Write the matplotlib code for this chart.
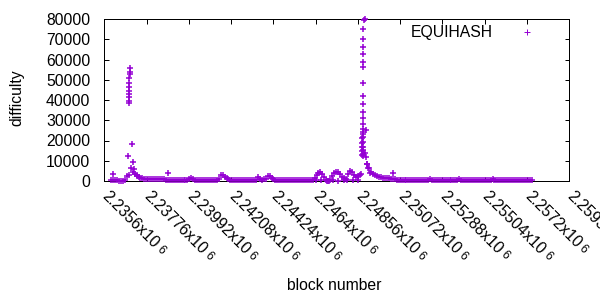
import numpy as np
import matplotlib
matplotlib.use('Agg')
import matplotlib.pyplot as plt
from matplotlib.lines import Line2D
from matplotlib.transforms import ScaledTranslation, blended_transform_factory

plt.rcParams['font.family'] = ['Liberation Sans', 'DejaVu Sans']

# ---------------- data ----------------
series_name = "EQUIHASH"

# regularly sampled blocks (every 100 blocks)
grid_blocks = list(range(2235950, 2257550, 100))
grid_difficulty = [
    600, 550, 500, 300, 200, 150, 150, 300, 2600, 3000,
    6500, 4500, 3300, 2300, 1800, 1500, 1300, 1150, 1000, 950,
    900, 900, 850, 850, 800, 800, 800, 750, 700, 600,
    400, 350, 300, 300, 350, 300, 250, 300, 350, 400,
    1200, 1600, 800, 500, 400, 350, 300, 350, 300, 250,
    300, 350, 300, 350, 400, 1200, 2800, 3200, 2200, 1300,
    800, 600, 500, 500, 550, 500, 450, 500, 550, 500,
    450, 500, 550, 500, 600, 1800, 900, 700, 800, 1200,
    2300, 2600, 1500, 800, 600, 500, 450, 500, 550, 500,
    450, 500, 400, 450, 500, 450, 400, 450, 500, 450,
    400, 450, 500, 600, 1500, 3000, 4000, 4200, 3300, 1800,
    600, 200, 600, 2400, 3800, 4600, 4300, 3300, 2000, 1300,
    1200, 3300, 5000, 4200, 3000, 2200, 2600, 3000, 3500, 13500,
    14000, 8500, 6300, 4200, 3500, 3000, 2500, 2200, 1900, 1700,
    1500, 1400, 1300, 1200, 1100, 1000, 500, 300, 350, 300,
    250, 300, 350, 300, 300, 250, 300, 350, 400, 300,
    250, 300, 350, 800, 350, 300, 250, 300, 350, 300,
    250, 300, 300, 350, 300, 250, 300, 350, 800, 350,
    300, 250, 300, 350, 300, 300, 250, 300, 350, 400,
    300, 250, 300, 350, 300, 800, 300, 350, 300, 300,
    250, 300, 350, 300, 250, 300, 350, 300, 350, 350,
    300, 250, 300, 350, 300, 300,
]

# first difficulty spike
spike1_blocks = [2236827, 2236878, 2236878, 2236878, 2236880, 2236880, 2236882,
                 2236882, 2236884, 2236930, 2236930, 2236935, 2237031, 2237082,
                 2237134, 2237256]
spike1_difficulty = [12500, 38400, 39700, 41300, 43000, 44600, 46600,
                     48500, 50700, 52800, 54000, 55600, 18100, 9200,
                     5800, 3000]

# second difficulty spike
spike2_blocks = [2248760, 2248780, 2248780, 2248800, 2248800, 2248820,
                 2248840, 2248840, 2248840, 2248840, 2248840, 2248840,
                 2248840, 2248840, 2248840, 2248840, 2248840, 2248840,
                 2248840, 2248840, 2248840, 2248840, 2248840, 2248840,
                 2248840, 2248860, 2248930, 2248970, 2248970, 2249020,
                 2249070, 2249190]
spike2_difficulty = [13000, 15000, 17000, 19000, 21000, 23000,
                     12500, 15300, 16900, 19400, 21900, 24300,
                     25700, 28100, 31000, 34200, 37900, 42100,
                     48500, 56400, 58900, 62700, 66300, 70000,
                     74900, 79500, 80000, 25200, 12000, 8400,
                     6300, 3800]

# low values between the humps before the second spike
low_blocks = [2246422, 2246678, 2246985, 2247087, 2247292, 2247547,
              2247854, 2248007, 2248314, 2248570]
low_difficulty = [300, 400, 100, 150, 300, 200, 400, 300, 250, 350]

# isolated outliers
outlier_blocks = [2236060, 2238872, 2250380]
outlier_difficulty = [3500, 3800, 4100]

x_ticks = [2235600, 2237760, 2239920, 2242080, 2244240, 2246400,
           2248560, 2250720, 2252880, 2255040, 2257200, 2259360]
x_tick_mantissas = ['2.2356', '2.23776', '2.23992', '2.24208', '2.24424', '2.2464',
                    '2.24856', '2.25072', '2.25288', '2.25504', '2.2572', '2.25936']
x_tick_exponent = '6'
y_ticks = [0, 10000, 20000, 30000, 40000, 50000, 60000, 70000, 80000]

# ---------------- style ----------------
FS = 11.3
COLOR = '#9400D3'
MS = 5.0
MEW = 1.1
PX = 72 / 100.0
DPI = 100

fig = plt.figure(figsize=(6, 3), dpi=DPI)
ax = fig.add_axes([104.3 / 600, 1 - 181 / 300, (569 - 104.3) / 600, 162 / 300])

for xs, ys in [(grid_blocks, grid_difficulty), (low_blocks, low_difficulty),
               (outlier_blocks, outlier_difficulty),
               (spike1_blocks, spike1_difficulty), (spike2_blocks, spike2_difficulty)]:
    ax.plot(xs, ys, linestyle='none', marker='+', ms=MS, mew=MEW,
            color=COLOR, clip_on=False, zorder=3)

ax.set_xlim(x_ticks[0], x_ticks[-1])
ax.set_ylim(y_ticks[0], y_ticks[-1])
ax.set_yticks(y_ticks)
ax.set_yticklabels([str(v) for v in y_ticks])
ax.set_xticks(x_ticks)
ax.set_xticklabels([])

for s in ax.spines.values():
    s.set_linewidth(1 * PX)
    s.set_color('black')
ax.tick_params(axis='both', direction='in', length=4.5 * PX, width=1 * PX,
               top=True, right=True, labelsize=FS, colors='black')
ax.tick_params(axis='y', pad=10)

# rotated x tick labels "m x10" with a small exponent
fig.canvas.draw()
renderer = fig.canvas.get_renderer()
base = blended_transform_factory(ax.transData, ax.transAxes)
s2 = np.sqrt(2)
ox, oy = 101.4 - 104.3, -(196.6 - 181.0)   # baseline start offset from tick (px)
GAP, RAISE = 3.0, 1.5
for xt, m in zip(x_ticks, x_tick_mantissas):
    main = m + 'x10'
    ax.text(xt, 0, main,
            transform=base + ScaledTranslation(ox / DPI, oy / DPI, fig.dpi_scale_trans),
            rotation=-45, rotation_mode='anchor', ha='left', va='baseline',
            fontsize=FS, clip_on=False)
    tmp = fig.text(0, 0, main, fontsize=FS)
    w = tmp.get_window_extent(renderer).width
    tmp.remove()
    d = w + GAP
    ex = ox + d / s2 + RAISE / s2
    ey = oy - d / s2 + RAISE / s2
    ax.text(xt, 0, x_tick_exponent,
            transform=base + ScaledTranslation(ex / DPI, ey / DPI, fig.dpi_scale_trans),
            rotation=-45, rotation_mode='anchor', ha='left', va='baseline',
            fontsize=FS * 0.75, clip_on=False)

fig.text(16.7 / 600, 1 - 97.5 / 300, 'difficulty', rotation=90,
         ha='center', va='center', fontsize=FS)
fig.text(334.5 / 600, 1 - 285 / 300, 'block number',
         ha='center', va='center', fontsize=FS)

handle = Line2D([], [], linestyle='none', marker='+', ms=4.8, mew=0.7, color=COLOR)
ax.legend([handle], [series_name], markerfirst=False, frameon=False,
          loc='upper right', bbox_to_anchor=(0.9434, 0.963),
          borderaxespad=0, borderpad=0, handlelength=2.0,
          handletextpad=1.17, fontsize=FS)

fig.savefig('out.png', dpi=DPI)
